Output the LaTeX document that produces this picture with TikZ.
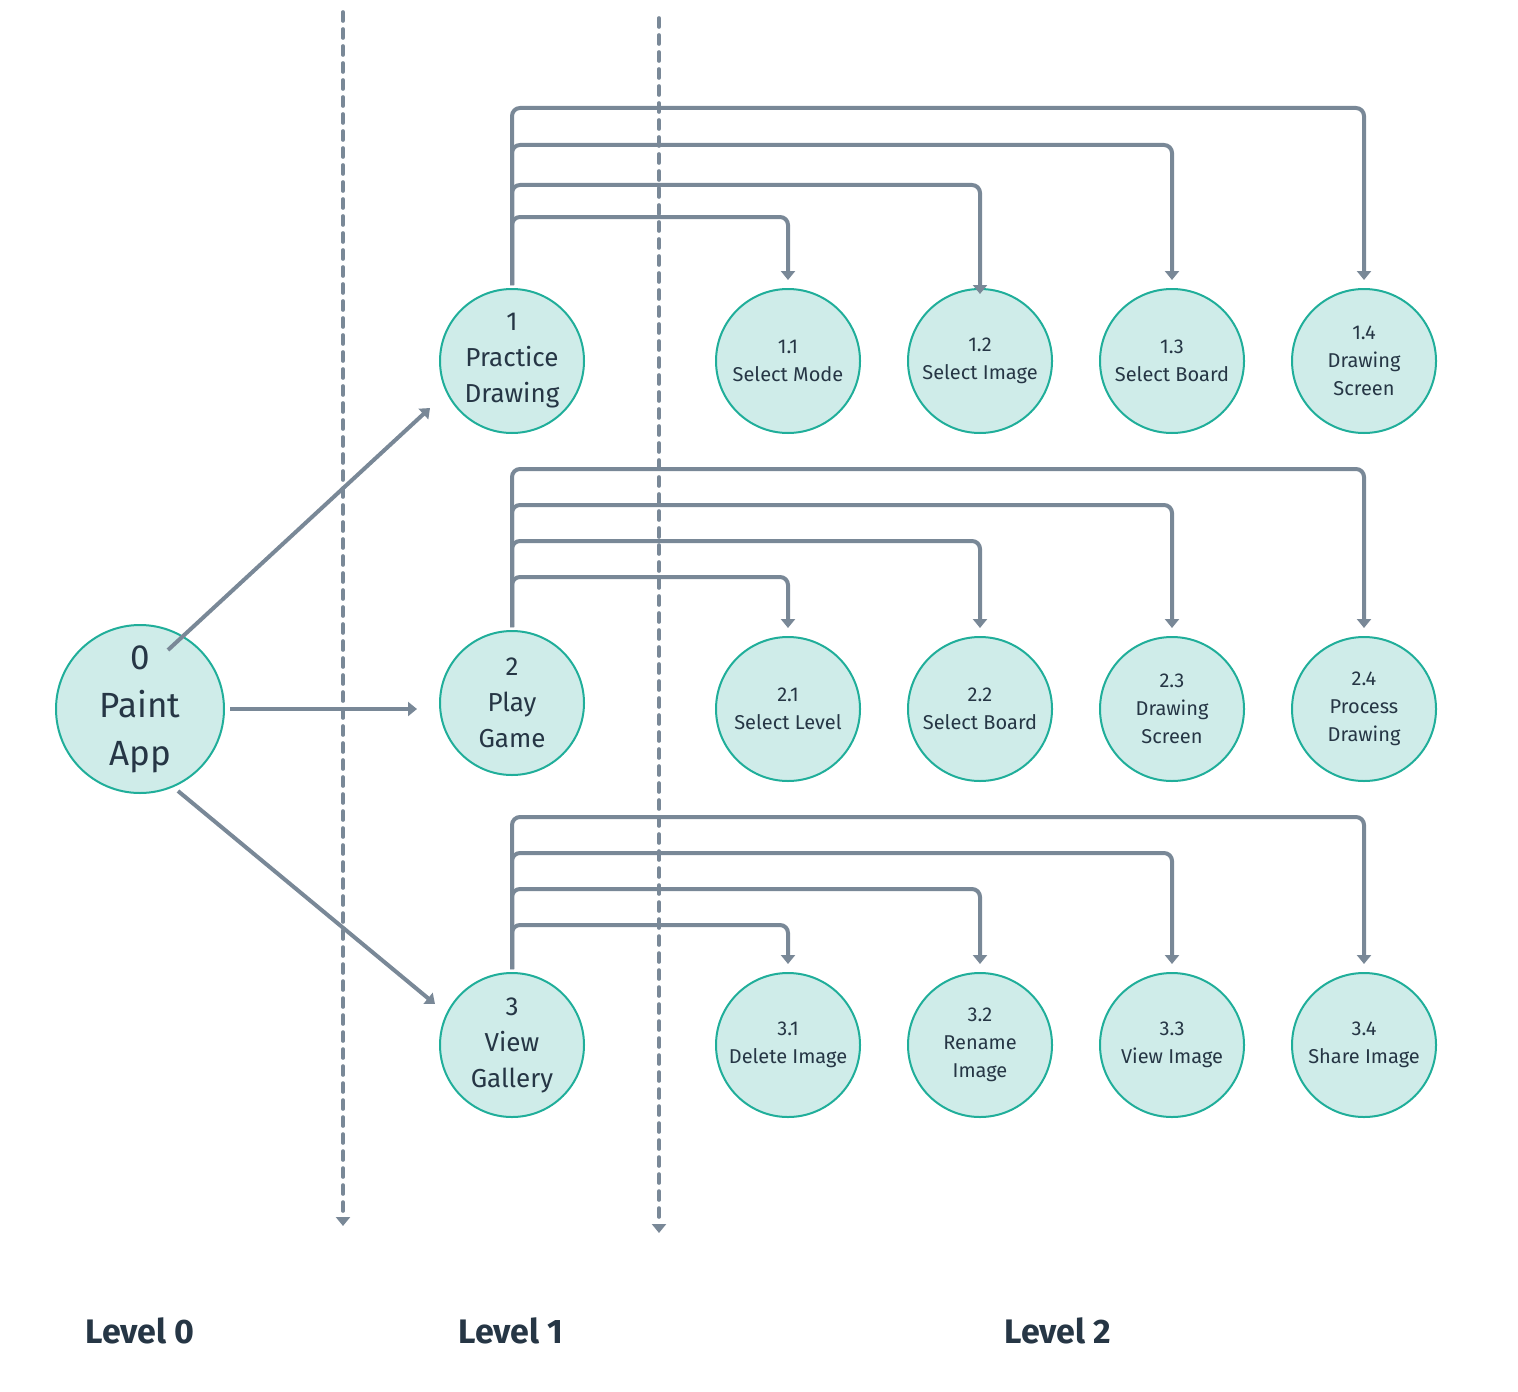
\documentclass[tikz,border=0pt]{standalone}
\usepackage{fontspec}
\setmainfont{Fira Sans}
\usepackage{tikz}
\usetikzlibrary{arrows.meta,calc}
\definecolor{linegray}{HTML}{798897}
\definecolor{procfill}{HTML}{CFECE9}
\definecolor{procedge}{HTML}{20AE9A}
\definecolor{ink}{HTML}{263645}
\tikzstyle{root}=[circle,draw=procedge,fill=procfill,line width=1pt,minimum size=84pt,inner sep=0pt,align=center,text=ink,font=\fontsize{17.5}{24}\selectfont]
\tikzstyle{proc}=[root,minimum size=72pt,font=\fontsize{13}{18}\selectfont]
\tikzstyle{sub}=[root,minimum size=72pt,font=\fontsize{10}{14}\selectfont]
\tikzstyle{flow}=[draw=linegray,line width=2pt,-{Triangle[width=7pt,length=4.5pt]}]
\tikzstyle{branch}=[flow,rounded corners=4pt,shorten <=1.5pt,shorten >=4pt]
\tikzstyle{divider}=[draw=linegray,line width=1.8pt,line cap=round,dash pattern=on 4.5pt off 4pt,-{Triangle[width=7pt,length=4.5pt]}]
\tikzstyle{level}=[text=ink,font=\fontsize{17}{20}\selectfont\bfseries]

\begin{document}
\begin{tikzpicture}[x=0.5pt,y=-0.5pt]
        \useasboundingbox (0,0) rectangle (1518,1391);
        % level separators
        \coordinate (s1) at (343,12);
        \coordinate (e1) at (343,1226);
        \coordinate (s2) at (659,18);
        \coordinate (e2) at (659,1233);
        \draw [divider] (s1) -- (e1);
        \draw [divider] (s2) -- (e2);

        \node at (140,709) [root] (p0) {0\\Paint\\App};
        \node at (512,361) [proc] (p1) {1\\Practice\\Drawing};
        \node at (512,703) [proc] (p2) {2\\Play\\Game};
        \node at (512,1045) [proc] (p3) {3\\View\\Gallery};

        \node at (788,361) [sub] (p11) {1.1\\Select Mode};
        \node at (980,361) [sub] (p12) {1.2\\Select Image};
        \node at (1172,361) [sub] (p13) {1.3\\Select Board};
        \node at (1364,361) [sub] (p14) {1.4\\Drawing\\Screen};

        \node at (788,709) [sub] (p21) {2.1\\Select Level};
        \node at (980,709) [sub] (p22) {2.2\\Select Board};
        \node at (1172,709) [sub] (p23) {2.3\\Drawing\\Screen};
        \node at (1364,709) [sub] (p24) {2.4\\Process\\Drawing};

        \node at (788,1045) [sub] (p31) {3.1\\Delete Image};
        \node at (980,1045) [sub] (p32) {3.2\\Rename\\Image};
        \node at (1172,1045) [sub] (p33) {3.3\\View Image};
        \node at (1364,1045) [sub] (p34) {3.4\\Share Image};

        % level 0 -> level 1
        \draw [flow] ($(p0.center)+(28,-59)$) -- ($(p1.center)+(-82,47)$);
        \draw [flow,shorten <=45pt,shorten >=47.5pt] (p0.center) -- (p0 -| p2);
        \draw [flow] ($(p0.center)+(38,82)$) -- ($(p3.center)+(-77,-41)$);

        % level 1 -> level 2
        \draw [branch] (p1.north) -- (p1.north |- 0,108) -| (p14.north);
        \draw [branch] (p1.north) -- (p1.north |- 0,145) -| (p13.north);
        \draw [branch,shorten >=-3pt] (p1.north) -- (p1.north |- 0,185) -| (p12.north);
        \draw [branch] (p1.north) -- (p1.north |- 0,217) -| (p11.north);

        \draw [branch] (p2.north) -- (p2.north |- 0,469) -| (p24.north);
        \draw [branch] (p2.north) -- (p2.north |- 0,505) -| (p23.north);
        \draw [branch] (p2.north) -- (p2.north |- 0,541) -| (p22.north);
        \draw [branch] (p2.north) -- (p2.north |- 0,577) -| (p21.north);

        \draw [branch] (p3.north) -- (p3.north |- 0,817) -| (p34.north);
        \draw [branch] (p3.north) -- (p3.north |- 0,853) -| (p33.north);
        \draw [branch] (p3.north) -- (p3.north |- 0,889) -| (p32.north);
        \draw [branch] (p3.north) -- (p3.north |- 0,925) -| (p31.north);

        \node at (140,1331) [level] (l0) {Level 0};
        \node at (511,1331) [level] (l1) {Level 1};
        \node at (1058,1331) [level] (l2) {Level 2};
\end{tikzpicture}
\end{document}
